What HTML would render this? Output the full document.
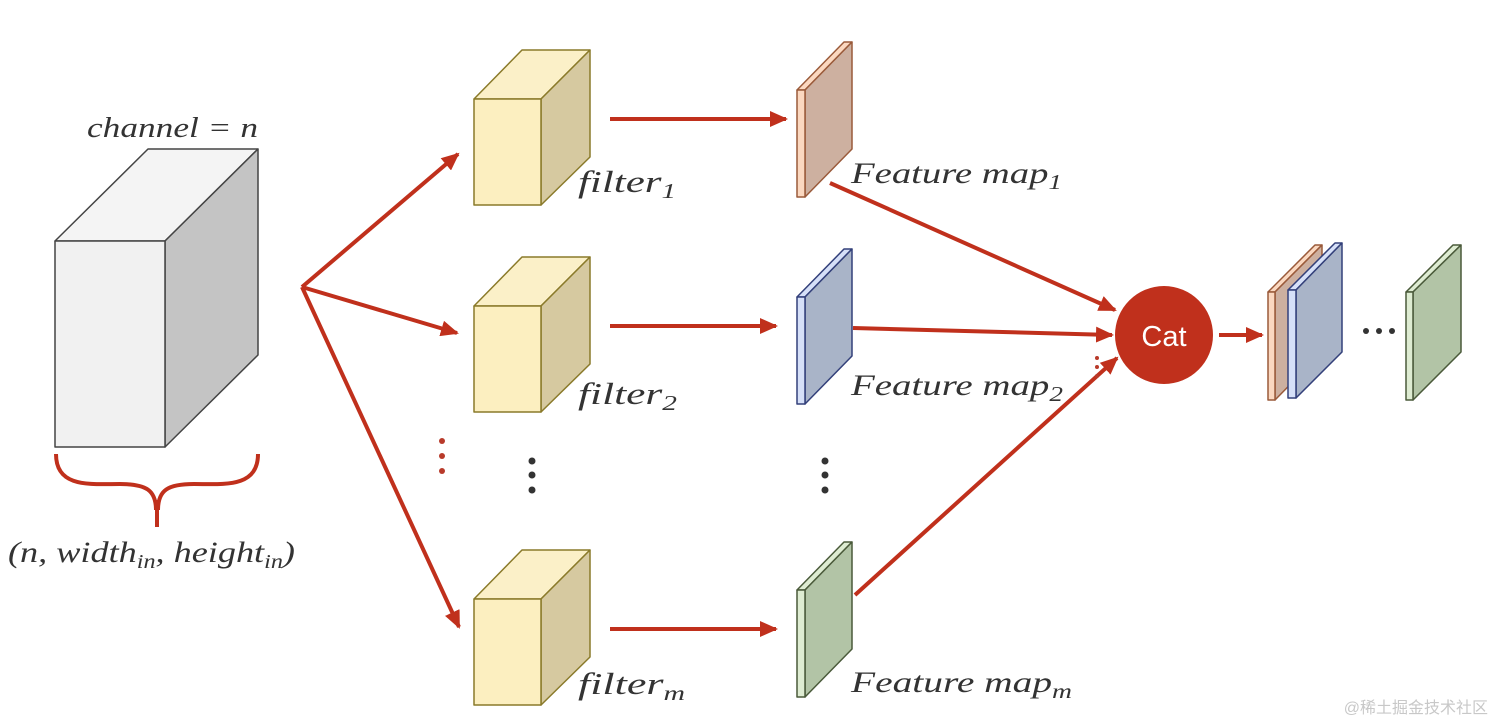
<!DOCTYPE html>
<html><head><meta charset="utf-8"><style>
html,body{margin:0;padding:0;background:#fff;}
svg{display:block;}
text{font-family:"Liberation Serif",serif;font-style:italic;fill:#333;}
</style></head><body>
<svg width="1493" height="721" viewBox="0 0 1493 721" xmlns="http://www.w3.org/2000/svg">
<defs>
<marker id="ah2" markerWidth="18" markerHeight="16" refX="16" refY="8" orient="auto" markerUnits="userSpaceOnUse" viewBox="0 0 18 16">
<path d="M0,0 L18,8 L0,16 z" fill="#c0301c"/>
</marker>
</defs>

<!-- big cube -->
<g stroke="#444" stroke-width="1.5" stroke-linejoin="round">
<polygon points="55,241 148,149 258,149 165,241" fill="#f4f4f4"/>
<polygon points="165,241 258,149 258,355 165,447" fill="#c4c4c4"/>
<rect x="55" y="241" width="110" height="206" fill="#f1f1f1"/>
</g>
<text x="87" y="137" font-size="28" textLength="171" lengthAdjust="spacingAndGlyphs">channel = n</text>
<path d="M56,454 C56,488 90,484 120,484 C146,484 156,490 156,510 M258,454 C258,488 224,484 194,484 C168,484 158,490 158,510 M157,500 L157,527" fill="none" stroke="#c0301c" stroke-width="4"/>
<text x="8" y="562" font-size="30" textLength="287" lengthAdjust="spacingAndGlyphs">(n, width<tspan font-size="20" dy="6">in</tspan><tspan dy="-6">, height</tspan><tspan font-size="20" dy="6">in</tspan><tspan dy="-6">)</tspan></text>

<!-- arrows -->
<g stroke="#c0301c" stroke-width="4" fill="none">
<line x1="302" y1="287" x2="458" y2="154" marker-end="url(#ah2)"/>
<line x1="302" y1="287" x2="457" y2="333" marker-end="url(#ah2)"/>
<line x1="302" y1="287" x2="459" y2="627" marker-end="url(#ah2)"/>
<line x1="610" y1="119" x2="786" y2="119" marker-end="url(#ah2)"/>
<line x1="610" y1="326" x2="776" y2="326" marker-end="url(#ah2)"/>
<line x1="610" y1="629" x2="776" y2="629" marker-end="url(#ah2)"/>
<line x1="830" y1="183" x2="1115" y2="310" marker-end="url(#ah2)"/>
<line x1="853" y1="328" x2="1112" y2="335" marker-end="url(#ah2)"/>
<line x1="855" y1="595" x2="1117" y2="358" marker-end="url(#ah2)"/>
<line x1="1219" y1="335" x2="1262" y2="335" marker-end="url(#ah2)"/>
</g>

<!-- filters -->
<g stroke="#8a7a2a" stroke-width="1.5" stroke-linejoin="round">
<g>
<polygon points="474,99 522,50 590,50 541,99" fill="#fbf0c8"/>
<polygon points="541,99 590,50 590,157 541,205" fill="#d6c9a0"/>
<rect x="474" y="99" width="67" height="106" fill="#fcefc0"/>
</g>
<g transform="translate(0,207)">
<polygon points="474,99 522,50 590,50 541,99" fill="#fbf0c8"/>
<polygon points="541,99 590,50 590,157 541,205" fill="#d6c9a0"/>
<rect x="474" y="99" width="67" height="106" fill="#fcefc0"/>
</g>
<g transform="translate(0,500)">
<polygon points="474,99 522,50 590,50 541,99" fill="#fbf0c8"/>
<polygon points="541,99 590,50 590,157 541,205" fill="#d6c9a0"/>
<rect x="474" y="99" width="67" height="106" fill="#fcefc0"/>
</g>
</g>
<text x="578" y="192" font-size="31" textLength="98" lengthAdjust="spacingAndGlyphs">filter<tspan font-size="21" dy="6">1</tspan></text>
<text x="578" y="404" font-size="31" textLength="99" lengthAdjust="spacingAndGlyphs">filter<tspan font-size="21" dy="6">2</tspan></text>
<text x="578" y="694" font-size="31" textLength="107" lengthAdjust="spacingAndGlyphs">filter<tspan font-size="21" dy="6">m</tspan></text>

<!-- feature maps -->
<g stroke-width="1.5" stroke-linejoin="round">
<g stroke="#9a5a3a">
<polygon points="797,90 844,42 852,42 805,90" fill="#fbd8c0"/>
<polygon points="805,90 852,42 852,149 805,197" fill="#cdb0a0"/>
<rect x="797" y="90" width="8" height="107" fill="#fbd8c0"/>
</g>
<g stroke="#33407a" transform="translate(0,207)">
<polygon points="797,90 844,42 852,42 805,90" fill="#d6e0f8"/>
<polygon points="805,90 852,42 852,149 805,197" fill="#a9b4c8"/>
<rect x="797" y="90" width="8" height="107" fill="#d6e0f8"/>
</g>
<g stroke="#4a5a3a" transform="translate(0,500)">
<polygon points="797,90 844,42 852,42 805,90" fill="#deecd2"/>
<polygon points="805,90 852,42 852,149 805,197" fill="#b2c4a6"/>
<rect x="797" y="90" width="8" height="107" fill="#deecd2"/>
</g>
</g>
<text x="851" y="183" font-size="30" textLength="211" lengthAdjust="spacingAndGlyphs">Feature map<tspan font-size="21" dy="6">1</tspan></text>
<text x="851" y="395" font-size="30" textLength="212" lengthAdjust="spacingAndGlyphs">Feature map<tspan font-size="21" dy="6">2</tspan></text>
<text x="851" y="692" font-size="30" textLength="221" lengthAdjust="spacingAndGlyphs">Feature map<tspan font-size="21" dy="6">m</tspan></text>

<!-- dots -->
<g fill="#b83a2a"><circle cx="442" cy="441" r="3"/><circle cx="442" cy="456" r="3"/><circle cx="442" cy="471" r="3"/>
<circle cx="1097" cy="358" r="2"/><circle cx="1097" cy="367" r="2"/><circle cx="1097" cy="376" r="2"/></g>
<g fill="#333"><circle cx="532" cy="461" r="3.5"/><circle cx="532" cy="475" r="3.5"/><circle cx="532" cy="490" r="3.5"/>
<circle cx="825" cy="461" r="3.5"/><circle cx="825" cy="475" r="3.5"/><circle cx="825" cy="490" r="3.5"/>
<circle cx="1366" cy="331" r="3"/><circle cx="1379" cy="331" r="3"/><circle cx="1392" cy="331" r="3"/></g>

<!-- Cat -->
<circle cx="1164" cy="335" r="49" fill="#c0301c"/>
<text x="1164" y="346" font-size="29" text-anchor="middle" style="font-family:'Liberation Sans',sans-serif;font-style:normal;fill:#fff">Cat</text>

<!-- output slabs -->
<g stroke-width="1.5" stroke-linejoin="round">
<g stroke="#9a5a3a">
<polygon points="1268,292 1315,245 1322,245 1275,292" fill="#fbd8c0"/>
<polygon points="1275,292 1322,245 1322,352 1275,400" fill="#cdb0a0"/>
<rect x="1268" y="292" width="7" height="108" fill="#fbd8c0"/>
</g>
<g stroke="#33407a">
<polygon points="1288,290 1335,243 1342,243 1296,290" fill="#d6e0f8"/>
<polygon points="1296,290 1342,243 1342,352 1296,398" fill="#a9b4c8"/>
<rect x="1288" y="290" width="8" height="108" fill="#d6e0f8"/>
</g>
<g stroke="#4a5a3a">
<polygon points="1406,292 1453,245 1461,245 1413,292" fill="#deecd2"/>
<polygon points="1413,292 1461,245 1461,352 1413,400" fill="#b2c4a6"/>
<rect x="1406" y="292" width="7" height="108" fill="#deecd2"/>
</g>
</g>

<text x="1488" y="713" font-size="16" text-anchor="end" style="font-family:'Liberation Sans','Noto Sans CJK SC',sans-serif;font-style:normal;fill:#c8c8c8">@稀土掘金技术社区</text>
</svg>
</body></html>
